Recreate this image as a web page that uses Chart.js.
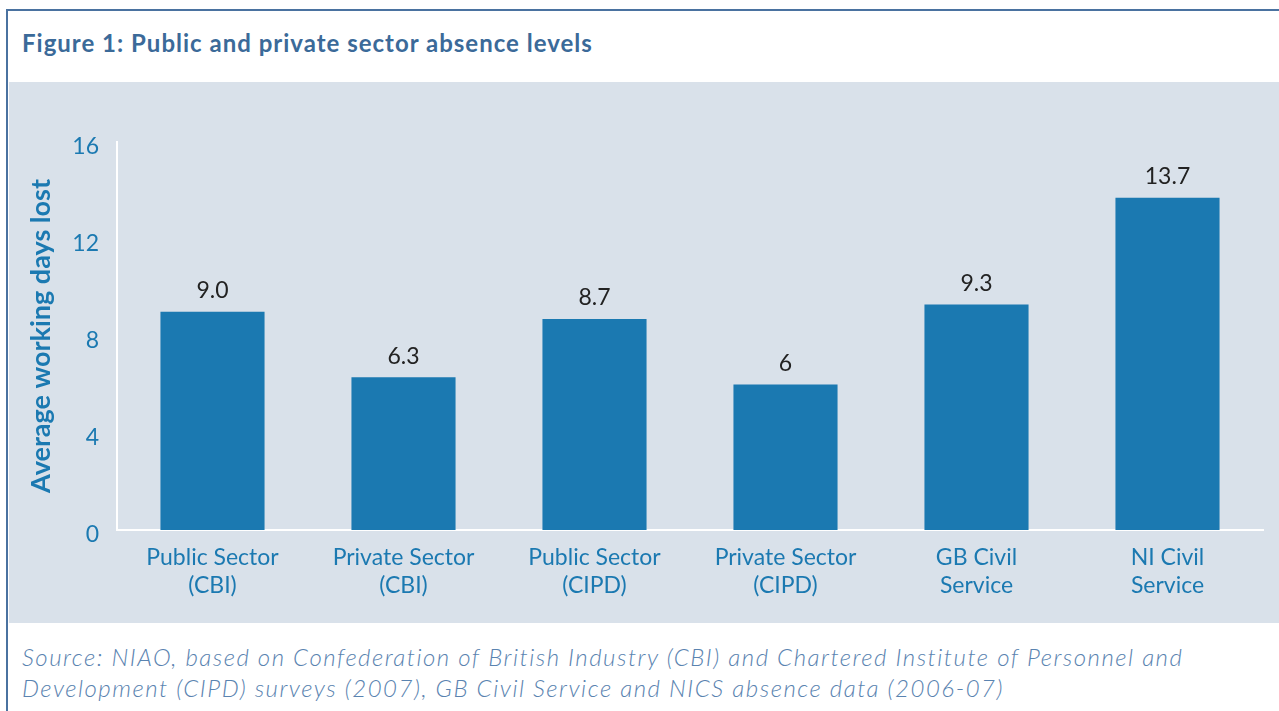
<!DOCTYPE html>
<html>
<head>
<meta charset="utf-8">
<script src="https://cdn.jsdelivr.net/npm/chart.js@4"></script>
<style>
  html, body { margin: 0; padding: 0; background: #fff; }
  body { width: 1279px; height: 711px; position: relative; overflow: hidden; font-family: Lato, 'Noto Sans', sans-serif; }
  #frameTop { position: absolute; left: 7px; top: 9px; width: 1272px; height: 2px; background: #4a72a0; }
  #frameLeft { position: absolute; left: 6px; top: 9px; width: 2px; height: 702px; background: #4a72a0; }
  #title { position: absolute; left: 22px; top: 28px; font-size: 24px; letter-spacing: 1px; font-weight: bold; color: #3b6a99; }
  #panel { position: absolute; left: 9px; top: 82px; width: 1270px; height: 541px; background: #d9e1ea; }
  #source { position: absolute; left: 22px; top: 641px; font-size: 24px; letter-spacing: 1.5px; font-style: italic; font-weight: 300; line-height: 31px; color: #5a83b0; }
</style>
</head>
<body>
<div id="frameTop"></div>
<div id="frameLeft"></div>
<div id="title">Figure 1: Public and private sector absence levels</div>
<div id="panel"><canvas id="absenceChart" width="1270" height="541"></canvas></div>
<div id="source">Source: NIAO, based on Confederation of British Industry (CBI) and Chartered Institute of Personnel and<br>Development (CIPD) surveys (2007), GB Civil Service and NICS absence data (2006-07)</div>

<script>
const categories = [
  ['Public Sector', '(CBI)'],
  ['Private Sector', '(CBI)'],
  ['Public Sector', '(CIPD)'],
  ['Private Sector', '(CIPD)'],
  ['GB Civil', 'Service'],
  ['NI Civil', 'Service']
];
const daysLost = [9.0, 6.3, 8.7, 6, 9.3, 13.7];
const valueLabels = ['9.0', '6.3', '8.7', '6', '9.3', '13.7'];
const yTicks = [0, 4, 8, 12, 16];

const blue = '#1b79b1';
const fontFamily = 'Lato, "Noto Sans", sans-serif';

// labels above each bar
const barValues = {
  id: 'barValues',
  afterDatasetsDraw(chart) {
    const ctx = chart.ctx;
    const meta = chart.getDatasetMeta(0);
    ctx.save();
    ctx.font = '23px ' + fontFamily;
    ctx.fillStyle = '#222';
    ctx.textAlign = 'center';
    ctx.textBaseline = 'middle';
    meta.data.forEach((bar, i) => {
      ctx.fillText(valueLabels[i], bar.x, bar.y - 21);
    });
    ctx.restore();
  }
};

const ctx = document.getElementById('absenceChart').getContext('2d');

const absenceChart = new Chart(ctx, {
  type: 'bar',
  data: {
    labels: categories,
    datasets: [{
      data: daysLost,
      backgroundColor: blue,
      categoryPercentage: 1,
      barPercentage: 0.545
    }]
  },
  options: {
    responsive: false,
    animation: false,
    layout: { padding: { top: 60, right: 16, left: 0, bottom: 0 } },
    plugins: {
      legend: { display: false },
      tooltip: { enabled: false }
    },
    scales: {
      x: {
        grid: { display: false },
        border: { display: true, color: '#ffffff', width: 2 },
        ticks: {
          color: blue,
          font: { family: fontFamily, size: 23, lineHeight: 1.2 },
          padding: 6,
          maxRotation: 0
        },
        afterFit(scale) { scale.height = 93; }
      },
      y: {
        min: 0,
        max: 16,
        afterBuildTicks(scale) { scale.ticks = yTicks.map(v => ({ value: v })); },
        grid: { display: false },
        border: { display: true, color: '#ffffff', width: 2 },
        ticks: {
          color: blue,
          font: { family: fontFamily, size: 23 },
          padding: 10,
          labelOffset: 5
        },
        title: {
          display: true,
          text: 'Average working days lost',
          color: blue,
          font: { family: fontFamily, size: 27, weight: 'bold' },
          padding: { top: 16, bottom: 0 }
        },
        afterFit(scale) { scale.width = 108; }
      }
    }
  },
  plugins: [barValues]
});
</script>
</body>
</html>
